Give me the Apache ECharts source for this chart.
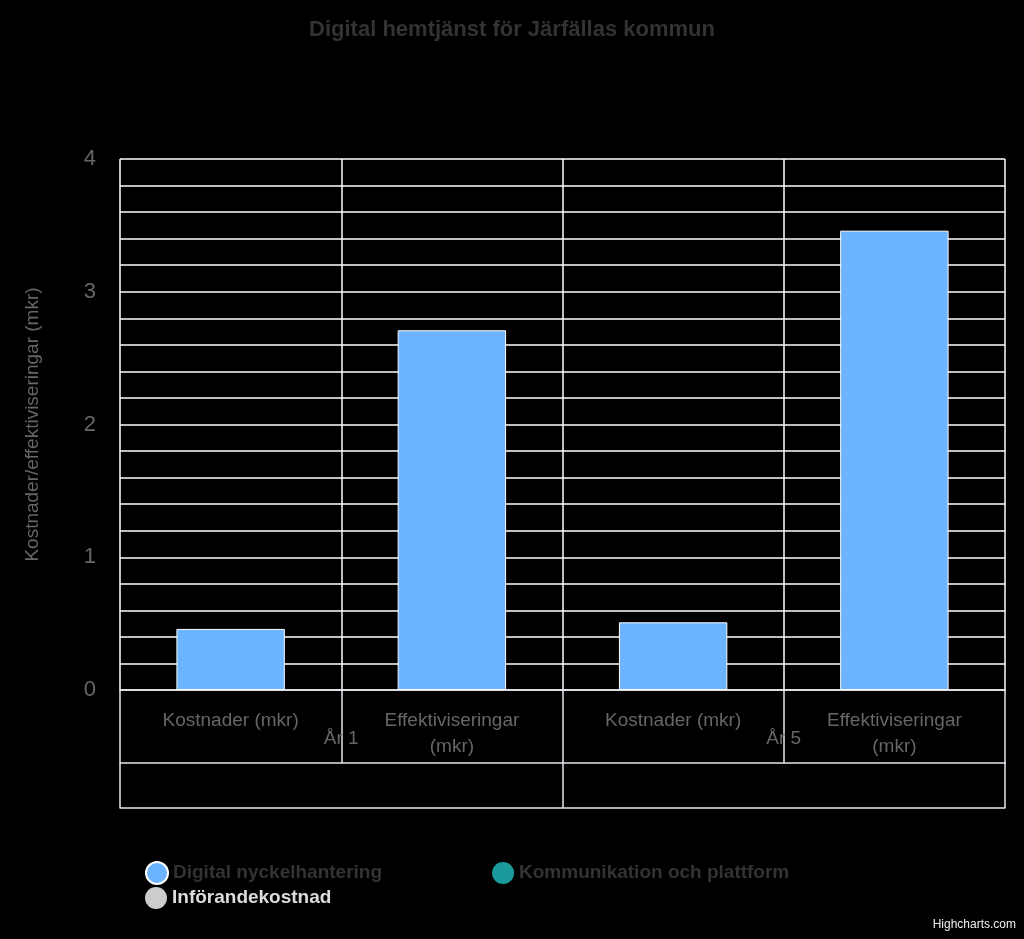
<!DOCTYPE html>
<html><head><meta charset="utf-8">
<script src="https://cdn.jsdelivr.net/npm/echarts@6/dist/echarts.min.js"></script>
<style>html,body{margin:0;background:#000}#c{width:1024px;height:939px}</style>
</head><body><div id="c"></div>
<script>
const categories = ['Kostnader (mkr)', 'Effektiviseringar\n(mkr)', 'Kostnader (mkr)', 'Effektiviseringar\n(mkr)'];
const groups = ['År 1', 'År 5'];
const digitalNyckel = [0.46, 2.71, 0.51, 3.46];
const kommunikation = [null, null, null, null];
const inforande = [null, null, null, null];
const seriesNames = ['Digital nyckelhantering', 'Kommunikation och plattform', 'Införandekostnad'];

const chart = echarts.init(document.getElementById('c'));
const line = {show: true, lineStyle: {color: '#e6e6f0', width: 1.5}};
chart.setOption({
  backgroundColor: '#000',
  animation: false,
  title: {text: 'Digital hemtjänst för Järfällas kommun', left: 'center', top: 14,
    textStyle: {color: '#333', fontSize: 22, fontWeight: 'bold', fontFamily: 'Liberation Sans'}},
  legend: [
    {data: [seriesNames[0], seriesNames[1]], left: 140, top: 856, itemGap: 110, icon: 'circle',
     itemWidth: 22, itemHeight: 22, textStyle: {color: '#333', fontSize: 19, fontWeight: 'bold', fontFamily: 'Liberation Sans'}},
    {data: [seriesNames[2]], left: 140, top: 882, icon: 'circle',
     itemWidth: 22, itemHeight: 22, textStyle: {color: '#ddd', fontSize: 19, fontWeight: 'bold', fontFamily: 'Liberation Sans'}}
  ],
  graphic: [{type: 'text', right: 8, bottom: 8, style: {text: 'Highcharts.com', fill: '#eee', fontSize: 12, fontFamily: 'Liberation Sans'}}],
  grid: {left: 120, right: 19, top: 159, bottom: 249},
  xAxis: [
    {type: 'category', data: categories, position: 'bottom',
     axisLine: line, axisTick: {show: true, length: 73, lineStyle: {color: '#e6e6f0', width: 1.5}},
     splitLine: {show: true, lineStyle: {color: '#fff', width: 1.5}},
     axisLabel: {color: '#666', fontSize: 19, margin: 18, lineHeight: 26, fontFamily: 'Liberation Sans', verticalAlign: 'top'}},
    {type: 'category', data: groups, position: 'bottom', offset: 73,
     axisLine: line, axisTick: {show: true, length: 45, lineStyle: {color: '#e6e6f0', width: 1.5}},
     axisLabel: {color: '#666', fontSize: 19, margin: -34, fontFamily: 'Liberation Sans'}},
    {type: 'category', data: groups, position: 'bottom', offset: 118,
     axisLine: line, axisTick: {show: false}, axisLabel: {show: false}}
  ],
  yAxis: {type: 'value', min: 0, max: 4, interval: 1,
    name: 'Kostnader/effektiviseringar (mkr)', nameLocation: 'middle', nameGap: 78,
    nameTextStyle: {color: '#666', fontSize: 19, fontFamily: 'Liberation Sans'},
    axisLabel: {color: '#666', fontSize: 22, margin: 24, fontFamily: 'Liberation Sans'},
    axisLine: {show: false},
    splitLine: {show: true, lineStyle: {color: '#fff', width: 1.5}},
    minorTick: {show: false, splitNumber: 5},
    minorSplitLine: {show: true, lineStyle: {color: '#fff', width: 1.5}}},
  series: [
    {name: seriesNames[0], type: 'bar', stack: 's', data: digitalNyckel, barWidth: '49%',
     itemStyle: {color: '#6cb4ff', borderColor: '#fff', borderWidth: 1}},
    {name: seriesNames[1], type: 'bar', stack: 's', data: kommunikation, itemStyle: {color: '#1a9a9a'}},
    {name: seriesNames[2], type: 'bar', stack: 's', data: inforande, itemStyle: {color: '#cccccc'}}
  ]
});
</script></body></html>
